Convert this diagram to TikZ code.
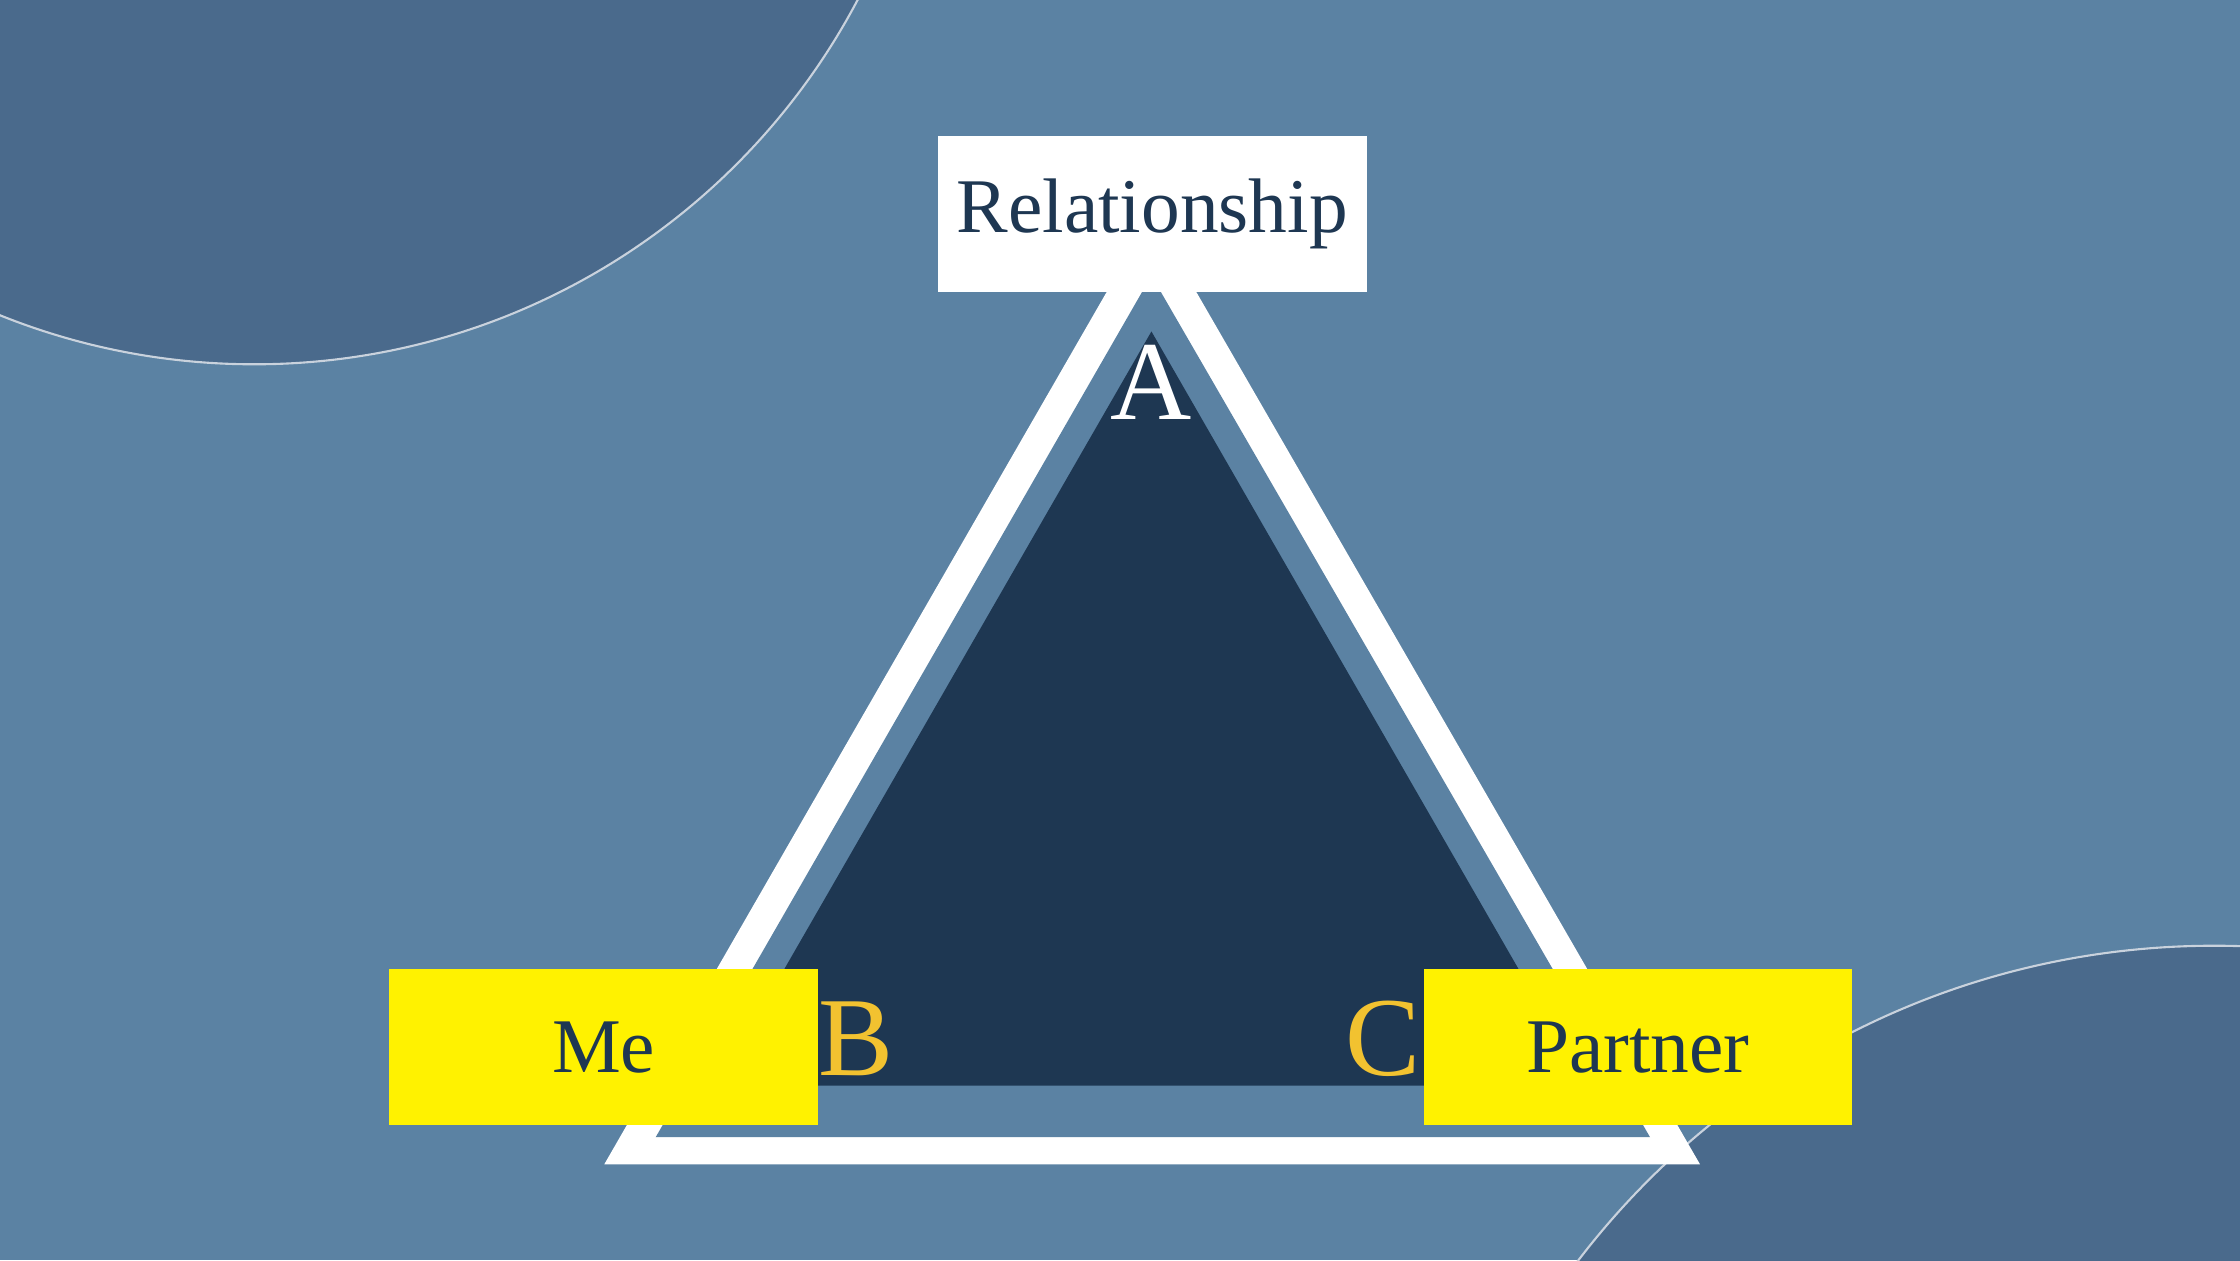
\documentclass[tikz,border=0pt]{standalone}
\usepackage{fontspec}
\setmainfont{Liberation Serif}
\definecolor{bg}{HTML}{5B82A3}
\definecolor{bgd}{HTML}{4A6A8C}
\definecolor{navy}{HTML}{1E3752}
\definecolor{yel}{HTML}{FFF200}
\definecolor{gold}{HTML}{F2C230}
\begin{document}
\begin{tikzpicture}[x=0.0142857cm,y=-0.0142857cm,
  box/.style={minimum width=4.2857cm,minimum height=1.5571cm,inner sep=0pt,text=navy,font=\fontsize{22}{24}\selectfont},
  lab/.style={font=\fontsize{32}{34}\selectfont}]
\fill[bg] (0,0) rectangle (1568,882);
\useasboundingbox (0,0) rectangle (1568,882);
\begin{scope}
\clip (0,0) rectangle (1568,882);
\fill[bgd] (178,-222) circle[radius=477];
\draw[white!70!bgd,line width=0.6pt] (178,-222) circle[radius=477];
\fill[bgd] (1550,1222) circle[radius=560];
\draw[white!70!bgd,line width=0.6pt] (1550,1222) circle[radius=560];
\end{scope}
\fill[white] (423,815) -- (1190,815) -- (806,150) -- cycle;
\fill[bg] (459,796) -- (1155,796) -- (806,193) -- cycle;
\fill[navy] (502,760) -- (1110,760) -- (806,232) -- cycle;
\node[box,fill=white,anchor=north west] (rel) at (656,95) {Relationship};
\node[box,fill=yel,anchor=north west] (me) at (272,678) {Me};
\node[box,fill=yel,anchor=north west] (pa) at (996,678) {Partner};
\node[lab,text=white] (a) at (806,268) {A};
\node[lab,text=gold] (b) at (599,727) {B};
\node[lab,text=gold] (c) at (968,727) {C};
\end{tikzpicture}
\end{document}
